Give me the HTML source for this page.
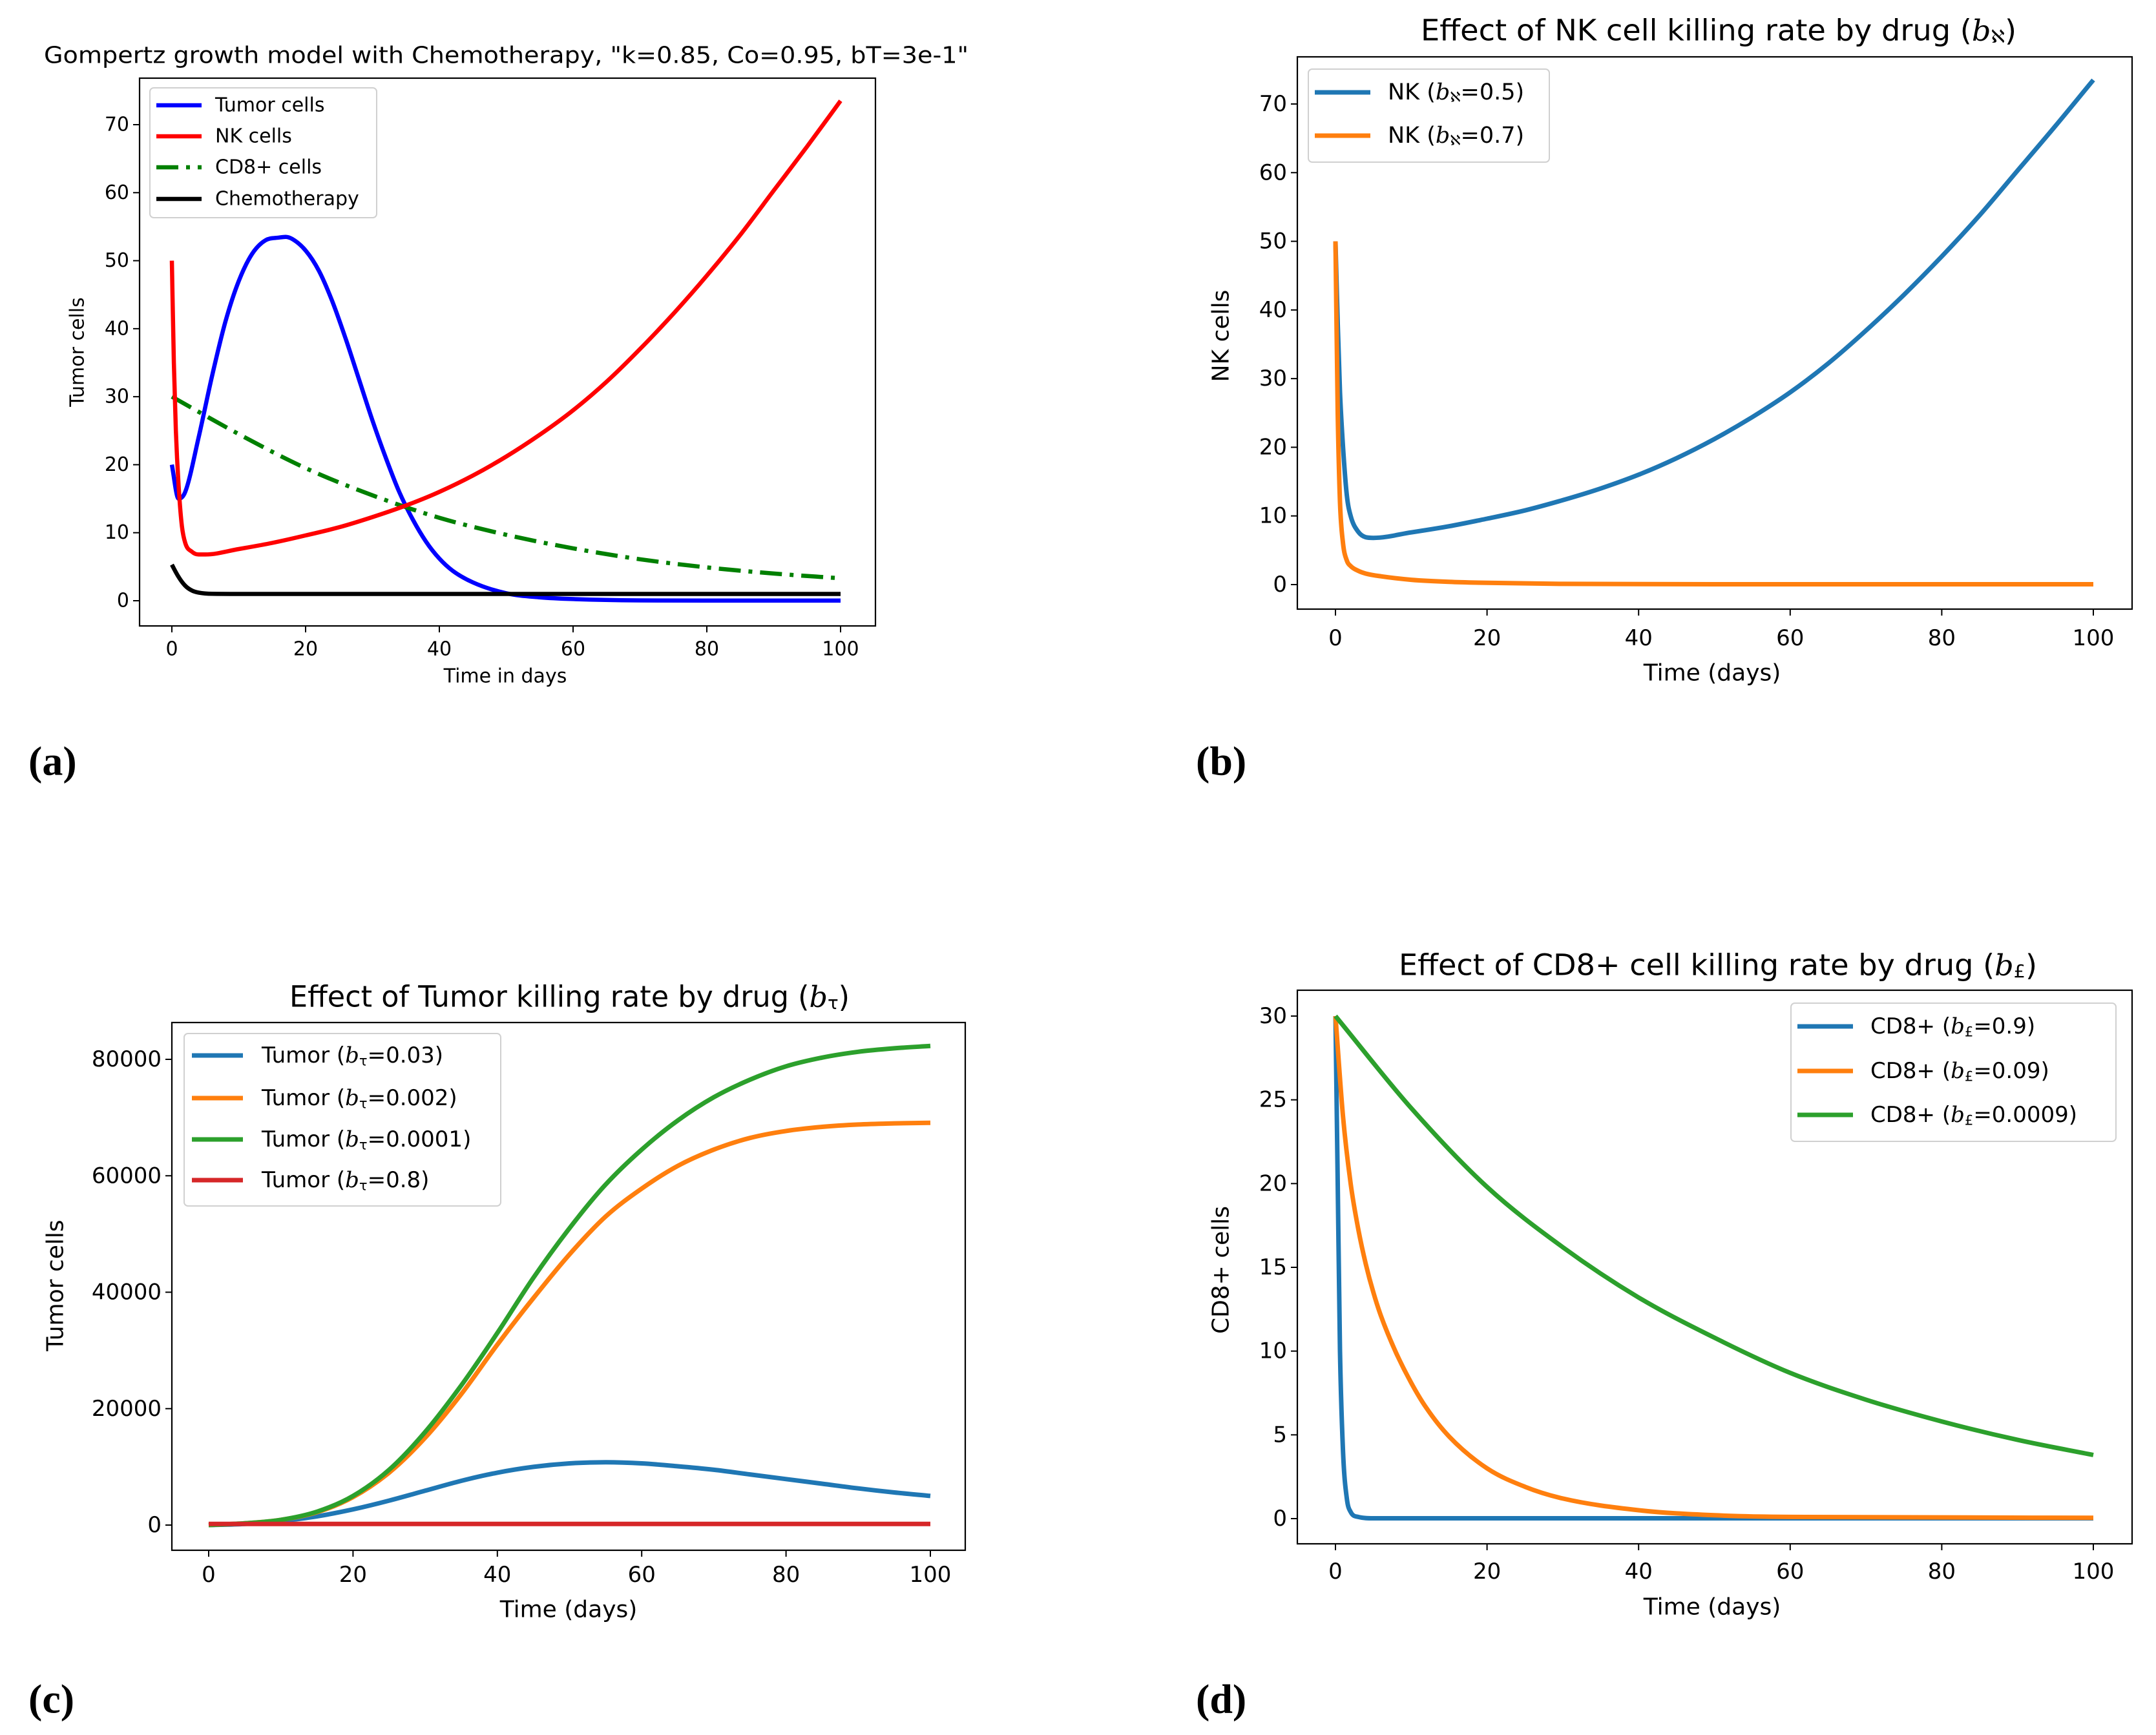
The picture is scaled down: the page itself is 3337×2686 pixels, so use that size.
<!DOCTYPE html>
<html><head><meta charset="utf-8">
<style>
html,body{margin:0;padding:0;background:#fff;}
svg{display:block;font-family:"DejaVu Sans","Liberation Sans",sans-serif;}
</style></head>
<body>
<svg id="fig" xmlns="http://www.w3.org/2000/svg" width="3337" height="2686" viewBox="0 0 3337 2686">
<rect width="3337" height="2686" fill="#fff"/>
</svg>
<script>
// ---------- Panel A data ----------
const aTumorX = [0,1,2,4,6,8,10,12,14,16,17,18,20,22,24,26,28,30,32,34,36,38,40,42,45,50,55,60,70,80,100];
const aTumorY = [20,15,16,24,33,41,47,51,53,53.4,53.5,53.2,51.5,48.5,44,38.5,32.5,26.5,21,16,12,8.7,6.2,4.4,2.7,1.1,0.5,0.25,0.05,0.02,0.02];
const aNKX = [0,0.3,0.6,1,1.5,2,3,4,5,10,15,20,25,30,35,40,45,50,55,60,65,70,75,80,85,90,95,100];
const aNKY = [50,35,25,17,11,8.5,7.2,6.8,6.8,7.6,8.5,9.6,10.8,12.3,14,16,18.4,21.2,24.4,28,32.2,37,42.2,47.8,53.8,60.3,66.8,73.5];
const aCD8X = [0,10,20,30,40,50,60,70,80,90,100];
const aCD8Y = [30,24.5,19.5,15.5,12.2,9.7,7.7,6.1,4.9,4,3.3];
const aChemoX = [0,1,2,3,4,6,10,100];
const aChemoY = [5.3,3.5,2.2,1.5,1.2,1.02,1,1];
const aYTicks = [0,10,20,30,40,50,60,70];
const xTicks = [0,20,40,60,80,100];
// ---------- Panel B data ----------
const bBlueX = [0,0.3,0.6,1,1.5,2,3,4,5,10,15,20,25,30,35,40,45,50,55,60,65,70,75,80,85,90,95,100];
const bBlueY = [50,38,28,20,13,10,7.7,6.9,6.8,7.6,8.5,9.6,10.8,12.3,14,16,18.4,21.2,24.4,28,32.2,37,42.2,47.8,53.8,60.3,66.8,73.5];
const bOrangeX = [0,0.3,0.6,1,1.5,2,3,4,6,10,15,20,30,50,100];
const bOrangeY = [50,25,12,6,3.5,2.7,2,1.6,1.2,0.7,0.4,0.25,0.1,0.05,0.05];
const bYTicks = [0,10,20,30,40,50,60,70];
// ---------- Panel C data ----------
const cDays = [0,5,10,15,20,25,30,35,40,45,50,55,60,65,70,75,80,85,90,95,100];
const cGreen = [0,300,900,2300,5000,9500,16000,24000,33000,42500,51000,58500,64500,69500,73500,76500,78800,80300,81300,81900,82300];
const cOrange = [0,300,900,2200,4800,9000,15000,22500,31000,39000,46500,53000,57800,61700,64500,66500,67700,68400,68800,69000,69100];
const cBlue = [0,200,700,1500,2700,4200,5900,7600,9000,10000,10600,10800,10600,10100,9500,8700,7900,7100,6300,5600,5000];
const cRed = [200,200,200,200,200,200,200,200,200,200,200,200,200,200,200,200,200,200,200,200,200];
const cYTicks = [0,20000,40000,60000,80000];
// ---------- Panel D data ----------
const dBlueX = [0,0.3,0.6,1,1.5,2,3,5,100];
const dBlueY = [30,20,10,4,1.2,0.4,0.1,0.02,0.02];
const dOrangeX = [0,1,2,3,4,5,6,8,10,12,15,20,25,30,40,50,60,100];
const dOrangeY = [30,24,20,17.3,15.2,13.5,12.1,9.9,8.1,6.6,4.9,3.0,1.9,1.2,0.5,0.2,0.1,0.05];
const dGreenX = [0,10,20,30,40,50,60,70,80,90,100];
const dGreenY = [30,24.5,19.8,16.2,13.2,10.8,8.7,7.1,5.8,4.7,3.8];
const dYTicks = [0,5,10,15,20,25,30];

const NS = "http://www.w3.org/2000/svg";
const fig = document.getElementById('fig');
function mk(tag, attrs, parent){
  const e = document.createElementNS(NS, tag);
  for (const k in attrs) e.setAttribute(k, attrs[k]);
  (parent||fig).appendChild(e);
  return e;
}
function scale(d0,d1,p0,p1){ return v => p0 + (v-d0)/(d1-d0)*(p1-p0); }
function monoPath(px, py){
  const n = px.length;
  if (n<2) return '';
  const dx=[],dy=[],m=[];
  for(let i=0;i<n-1;i++){dx[i]=px[i+1]-px[i];dy[i]=py[i+1]-py[i];m[i]=dx[i]===0?0:dy[i]/dx[i];}
  const t=[m[0]];
  for(let i=1;i<n-1;i++){ t[i] = (m[i-1]*m[i]<=0)?0:(m[i-1]+m[i])/2; }
  t[n-1]=m[n-2];
  for(let i=0;i<n-1;i++){
    if(m[i]===0){t[i]=0;t[i+1]=0;continue;}
    const a=t[i]/m[i], b=t[i+1]/m[i], s=a*a+b*b;
    if(s>9){const tau=3/Math.sqrt(s);t[i]=tau*a*m[i];t[i+1]=tau*b*m[i];}
  }
  let d='M'+px[0].toFixed(1)+','+py[0].toFixed(1);
  for(let i=0;i<n-1;i++){
    const h=dx[i]/3;
    d+=' C'+(px[i]+h).toFixed(1)+','+(py[i]+t[i]*h).toFixed(1)+' '+(px[i+1]-h).toFixed(1)+','+(py[i+1]-t[i+1]*h).toFixed(1)+' '+px[i+1].toFixed(1)+','+py[i+1].toFixed(1);
  }
  return d;
}
function text(str, attrs, name){
  const t = mk('text', attrs);
  t.textContent = str;
  
  
  return t;
}

function panel(cfg){
  const g = mk('g', {});
  
  
  const sx = scale(0,100,cfg.x0,cfg.x100);
  const sy = scale(0,cfg.yRef,cfg.y0,cfg.yRefPx);
  const cp = mk('clipPath',{id:cfg.name+'-clip'},g);
  mk('rect',{x:cfg.box[0],y:cfg.box[1],width:cfg.box[2]-cfg.box[0],height:cfg.box[3]-cfg.box[1]},cp);
  cfg.series.forEach(s=>{
    const p = mk('path',{d:monoPath(s.x.map(sx), s.y.map(sy)), fill:'none', stroke:s.color,'stroke-width':cfg.lw,'stroke-linejoin':'round','clip-path':'url(#'+cfg.name+'-clip)'},g);
    if(s.dash) p.setAttribute('stroke-dasharray', s.dash);
    
    
  });
  const fr = mk('rect',{x:cfg.box[0],y:cfg.box[1],width:cfg.box[2]-cfg.box[0],height:cfg.box[3]-cfg.box[1],fill:'none',stroke:'#000','stroke-width':2.2},g);
  
  
  xTicks.forEach(v=>{
    const x = sx(v);
    const tk = mk('line',{x1:x,x2:x,y1:cfg.box[3],y2:cfg.box[3]+10,stroke:'#000','stroke-width':2},g);
    
    
    text(String(v),{x:x,y:cfg.xTickY,'font-size':cfg.tickFs,'text-anchor':'middle','dominant-baseline':'central',fill:'#000'},'x-tick-label');
  });
  cfg.yTicks.forEach(v=>{
    const y = sy(v);
    const tk = mk('line',{x1:cfg.box[0]-10,x2:cfg.box[0],y1:y,y2:y,stroke:'#000','stroke-width':2},g);
    
    
    text(String(v),{x:cfg.box[0]-16,y:y,'font-size':cfg.tickFs,'text-anchor':'end','dominant-baseline':'central',fill:'#000'},'y-tick-label');
  });
  return {sx,sy};
}

panel({name:'panel-a', box:[216,121,1355,969], x0:266, x100:1301, y0:930, yRef:70, yRefPx:193, lw:6.5,
  tickFs:30, xTickY:1005, yTicks:aYTicks,
  series:[
    {name:'tumor-cells-line', x:aTumorX, y:aTumorY, color:'#0000ff'},
    {name:'cd8-cells-line', x:aCD8X, y:aCD8Y, color:'#008000', dash:'34,12,6,12'},
    {name:'chemotherapy-line', x:aChemoX, y:aChemoY, color:'#000000'},
    {name:'nk-cells-line', x:aNKX, y:aNKY, color:'#ff0000'}
  ]});
panel({name:'panel-b', box:[2008,88,3300,943], x0:2067, x100:3240, y0:905, yRef:70, yRefPx:161, lw:7,
  tickFs:34, xTickY:988, yTicks:bYTicks,
  series:[
    {name:'nk-b05-line', x:bBlueX, y:bBlueY, color:'#1f77b4'},
    {name:'nk-b07-line', x:bOrangeX, y:bOrangeY, color:'#ff7f0e'}
  ]});
panel({name:'panel-c', box:[266,1583,1494,2400], x0:323, x100:1440, y0:2361, yRef:80000, yRefPx:1640, lw:7,
  tickFs:34, xTickY:2438, yTicks:cYTicks,
  series:[
    {name:'tumor-b003-line', x:cDays, y:cBlue, color:'#1f77b4'},
    {name:'tumor-b0002-line', x:cDays, y:cOrange, color:'#ff7f0e'},
    {name:'tumor-b00001-line', x:cDays, y:cGreen, color:'#2ca02c'},
    {name:'tumor-b08-line', x:cDays, y:cRed, color:'#d62728'}
  ]});
panel({name:'panel-d', box:[2008,1533,3300,2390], x0:2067, x100:3240, y0:2351, yRef:30, yRefPx:1573, lw:7,
  tickFs:34, xTickY:2433, yTicks:dYTicks,
  series:[
    {name:'cd8-b09-line', x:dBlueX, y:dBlueY, color:'#1f77b4'},
    {name:'cd8-b009-line', x:dOrangeX, y:dOrangeY, color:'#ff7f0e'},
    {name:'cd8-b00009-line', x:dGreenX, y:dGreenY, color:'#2ca02c'}
  ]});

function legend(name, box, hx, tx, rows, fs, lw){
  const r = mk('rect',{x:box[0],y:box[1],width:box[2]-box[0],height:box[3]-box[1],rx:6,fill:'#fff','fill-opacity':0.85,stroke:'#d0d0d0','stroke-width':2});
  
  
  rows.forEach(row=>{
    const l = mk('line',{x1:hx[0],x2:hx[1],y1:row.y,y2:row.y,stroke:row.color,'stroke-width':lw});
    if(row.dash) l.setAttribute('stroke-dasharray',row.dash);
    
    
    const t = mk('text',{x:tx,y:row.y,'font-size':fs,'dominant-baseline':'central',fill:'#000'});
    
    
    if(row.sub){
      t.appendChild(document.createTextNode(row.pre+' ('));
      const b = mk('tspan',{'font-style':'italic','font-family':'"DejaVu Serif","Liberation Serif",serif'},t); b.textContent='b';
      const s = mk('tspan',{'font-size':fs*0.62,dy:fs*0.22},t); s.textContent=row.sub;
      const v = mk('tspan',{dy:-fs*0.22},t); v.textContent='='+row.val+')';
    } else t.textContent = row.label;
  });
}
legend('legend-a',[232,136,583,337],[242,312],333,[
  {y:163,color:'#0000ff',label:'Tumor cells'},
  {y:211,color:'#ff0000',label:'NK cells'},
  {y:259,color:'#008000',label:'CD8+ cells',dash:'34,12,6,12'},
  {y:308,color:'#000',label:'Chemotherapy'}],30,6.5);
legend('legend-b',[2025,107,2398,251],[2035,2121],2148,[
  {y:143,color:'#1f77b4',pre:'NK',sub:'ℵ',val:'0.5'},
  {y:210,color:'#ff7f0e',pre:'NK',sub:'ℵ',val:'0.7'}],35,7);
legend('legend-c',[285,1600,775,1867],[297,376],405,[
  {y:1634,color:'#1f77b4',pre:'Tumor',sub:'τ',val:'0.03'},
  {y:1700,color:'#ff7f0e',pre:'Tumor',sub:'τ',val:'0.002'},
  {y:1764,color:'#2ca02c',pre:'Tumor',sub:'τ',val:'0.0001'},
  {y:1827,color:'#d62728',pre:'Tumor',sub:'τ',val:'0.8'}],34,7);
legend('legend-d',[2772,1553,3275,1767],[2782,2868],2895,[
  {y:1589,color:'#1f77b4',pre:'CD8+',sub:'£',val:'0.9'},
  {y:1658,color:'#ff7f0e',pre:'CD8+',sub:'£',val:'0.09'},
  {y:1726,color:'#2ca02c',pre:'CD8+',sub:'£',val:'0.0009'}],34,7);

text('Gompertz growth model with Chemotherapy, "k=0.85, Co=0.95, bT=3e-1"',{x:68,y:86,'font-size':36,'dominant-baseline':'central',textLength:1431,lengthAdjust:'spacingAndGlyphs'},'title-a');
function sTitle(pre, sub, x, y, len, name){
  const t = mk('text',{x:x,y:y,'font-size':45,'dominant-baseline':'central',textLength:len,lengthAdjust:'spacingAndGlyphs'});
  
  
  t.appendChild(document.createTextNode(pre+' ('));
  const b = mk('tspan',{'font-style':'italic','font-family':'"DejaVu Serif","Liberation Serif",serif'},t); b.textContent='b';
  const s = mk('tspan',{'font-size':28,dy:9},t); s.textContent=sub;
  const v = mk('tspan',{dy:-9},t); v.textContent=')';
}
sTitle('Effect of NK cell killing rate by drug','ℵ',2199,47,922,'title-b');
sTitle('Effect of Tumor killing rate by drug','τ',448,1543,867,'title-c');
sTitle('Effect of CD8+ cell killing rate by drug','£',2165,1494,988,'title-d');

text('Time in days',{x:782,y:1047,'font-size':30,'text-anchor':'middle','dominant-baseline':'central'},'x-axis-title-a');
text('Tumor cells',{x:120,y:545,'font-size':30,'text-anchor':'middle','dominant-baseline':'central',transform:'rotate(-90 120 545)'},'y-axis-title-a');
text('Time (days)',{x:2650,y:1042,'font-size':36,'text-anchor':'middle','dominant-baseline':'central'},'x-axis-title-b');
text('NK cells',{x:1890,y:520,'font-size':36,'text-anchor':'middle','dominant-baseline':'central',transform:'rotate(-90 1890 520)'},'y-axis-title-b');
text('Time (days)',{x:880,y:2492,'font-size':36,'text-anchor':'middle','dominant-baseline':'central'},'x-axis-title-c');
text('Tumor cells',{x:86,y:1990,'font-size':36,'text-anchor':'middle','dominant-baseline':'central',transform:'rotate(-90 86 1990)'},'y-axis-title-c');
text('Time (days)',{x:2650,y:2488,'font-size':36,'text-anchor':'middle','dominant-baseline':'central'},'x-axis-title-d');
text('CD8+ cells',{x:1890,y:1966,'font-size':36,'text-anchor':'middle','dominant-baseline':'central',transform:'rotate(-90 1890 1966)'},'y-axis-title-d');

const lf = '"Liberation Serif","DejaVu Serif",serif';
text('(a)',{x:44,y:1178,'font-size':64,'font-weight':'bold','font-family':lf,'dominant-baseline':'central'},'panel-label-a');
text('(b)',{x:1851,y:1178,'font-size':64,'font-weight':'bold','font-family':lf,'dominant-baseline':'central'},'panel-label-b');
text('(c)',{x:44,y:2630,'font-size':64,'font-weight':'bold','font-family':lf,'dominant-baseline':'central'},'panel-label-c');
text('(d)',{x:1851,y:2630,'font-size':64,'font-weight':'bold','font-family':lf,'dominant-baseline':'central'},'panel-label-d');
</script>
</body></html>
